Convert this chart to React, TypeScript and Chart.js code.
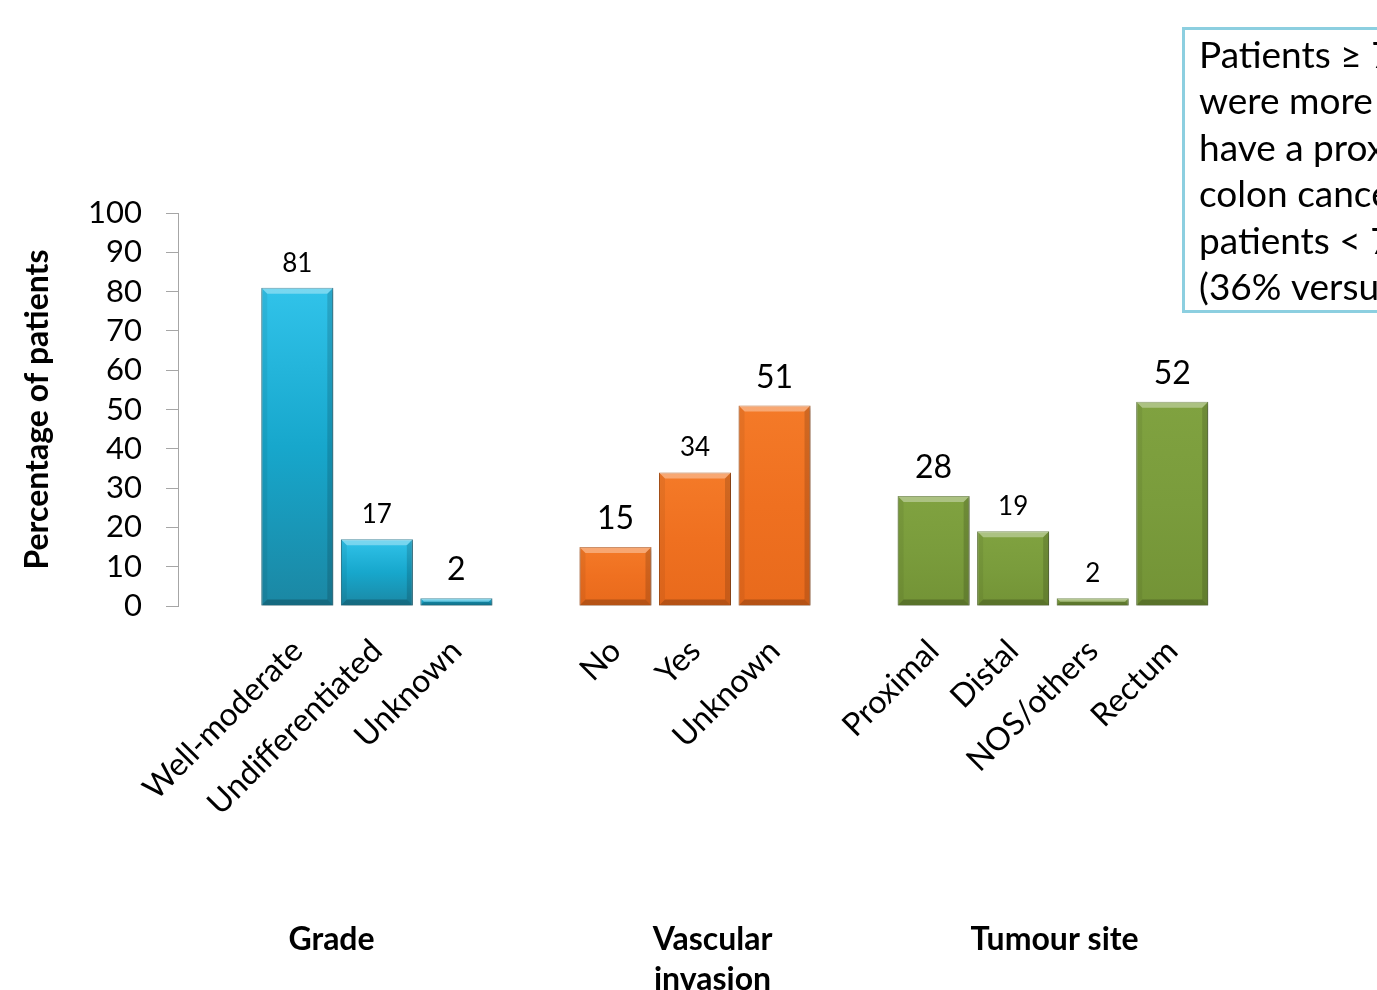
import React, { useEffect, useRef } from "react";
import { Chart, registerables } from "chart.js";

Chart.register(...registerables);

// ---- data ----
const gradeLabels = ["Well-moderate", "Undifferentiated", "Unknown"];
const gradeValues = [81, 17, 2];
const vascularLabels = ["No", "Yes", "Unknown"];
const vascularValues = [15, 34, 51];
const siteLabels = ["Proximal", "Distal", "NOS/others", "Rectum"];
const siteValues = [28, 19, 2, 52];
const yTickMax = 100;
const yTickStep = 10;
const groupTitles = [["Grade"], ["Vascular", "invasion"], ["Tumour site"]];
const noteLines = [
  "Patients \u2265 70 years",
  "were more likely to",
  "have a proximal",
  "colon cancer than",
  "patients < 70 years",
  "(36% versus 24%)",
];

// ---- styling ----
const FONT = "Lato, 'Open Sans', sans-serif";
const groupPalette = [
  { top: "#31c3ea", mid: "#17a7cc", bottom: "#1b87a3", border: "#12708a" },
  { top: "#f47a28", mid: "#ef7020", bottom: "#e86a1c", border: "#b9581a" },
  { top: "#80a240", mid: "#7a9c3c", bottom: "#739336", border: "#58752a" },
];
// larger value labels for some bars, per group
const bigValueLabel = [
  [false, false, true],
  [true, false, true],
  [true, false, false, true],
];
// where each group title sits, in category units
const groupTitleAt = [1.43, 6.22, 10.52];

// ---- assembled series: an empty slot before each group ----
const groups = [
  { labels: gradeLabels, values: gradeValues },
  { labels: vascularLabels, values: vascularValues },
  { labels: siteLabels, values: siteValues },
];
const allLabels: string[] = [];
const allValues: (number | null)[] = [];
const slotGroup: number[] = [];
const slotBig: boolean[] = [];
groups.forEach((g, gi) => {
  allLabels.push("");
  allValues.push(null);
  slotGroup.push(-1);
  slotBig.push(false);
  g.labels.forEach((l, i) => {
    allLabels.push(l);
    allValues.push(g.values[i]);
    slotGroup.push(gi);
    slotBig.push(bigValueLabel[gi][i]);
  });
});

const barFill = (ctx: any) => {
  const gi = slotGroup[ctx.dataIndex];
  if (gi < 0) return "transparent";
  const pal = groupPalette[gi];
  const chart = ctx.chart;
  const ys = chart.scales && chart.scales.y;
  const v = ctx.raw;
  if (!ys || v == null || !isFinite(ys.getPixelForValue(v))) return pal.mid;
  const top = ys.getPixelForValue(v);
  const base = ys.getPixelForValue(0);
  if (!(base > top)) return pal.mid;
  const g = chart.ctx.createLinearGradient(0, top, 0, base);
  g.addColorStop(0, pal.top);
  g.addColorStop(0.5, pal.mid);
  g.addColorStop(1, pal.bottom);
  return g;
};

const barBorder = (ctx: any) => {
  const gi = slotGroup[ctx.dataIndex];
  return gi < 0 ? "transparent" : groupPalette[gi].border;
};

// soft shadow under the bars
const barShadow = {
  id: "barShadow",
  beforeDatasetsDraw(chart: any) {
    const c = chart.ctx;
    c.save();
    c.shadowColor = "rgba(0,0,0,0.28)";
    c.shadowBlur = 4;
    c.shadowOffsetX = 1;
    c.shadowOffsetY = 2;
  },
  afterDatasetsDraw(chart: any) {
    chart.ctx.restore();
  },
};

// bevelled edges on each bar
const barBevel = {
  id: "barBevel",
  afterDatasetsDraw(chart: any) {
    const c = chart.ctx;
    const meta = chart.getDatasetMeta(0);
    meta.data.forEach((el: any, i: number) => {
      if (allValues[i] == null) return;
      const l = el.x - el.width / 2;
      const r = el.x + el.width / 2;
      const t = Math.min(el.y, el.base);
      const b = Math.max(el.y, el.base);
      const h = b - t;
      const bv = Math.min(6, h / 2);
      const quad = (pts: number[][], fill: string) => {
        c.beginPath();
        c.moveTo(pts[0][0], pts[0][1]);
        for (let k = 1; k < pts.length; k++) c.lineTo(pts[k][0], pts[k][1]);
        c.closePath();
        c.fillStyle = fill;
        c.fill();
      };
      c.save();
      quad([[l, t], [r, t], [r - bv, t + bv], [l + bv, t + bv]], "rgba(255,255,255,0.35)");
      quad([[l, t], [l + bv, t + bv], [l + bv, b - bv], [l, b]], "rgba(0,0,0,0.06)");
      quad([[r, t], [r, b], [r - bv, b - bv], [r - bv, t + bv]], "rgba(0,0,0,0.14)");
      quad([[l, b], [l + bv, b - bv], [r - bv, b - bv], [r, b]], "rgba(0,0,0,0.22)");
      c.restore();
    });
  },
};

// value labels above the bars
const valueLabels = {
  id: "valueLabels",
  afterDatasetsDraw(chart: any) {
    const c = chart.ctx;
    const meta = chart.getDatasetMeta(0);
    c.save();
    c.fillStyle = "#000";
    c.textAlign = "center";
    c.textBaseline = "middle";
    meta.data.forEach((el: any, i: number) => {
      const v = allValues[i];
      if (v == null) return;
      const big = slotBig[i];
      c.font = `${big ? 32 : 26}px ${FONT}`;
      c.fillText(String(v), el.x, el.y - (big ? 28 : 24.5));
    });
    c.restore();
  },
};

// group captions under the category labels
const groupCaptions = {
  id: "groupCaptions",
  afterDraw(chart: any) {
    const c = chart.ctx;
    const xs = chart.scales.x;
    c.save();
    c.fillStyle = "#000";
    c.textAlign = "center";
    c.textBaseline = "middle";
    c.font = `bold 32px ${FONT}`;
    groupTitles.forEach((lines, gi) => {
      const x = xs.getPixelForValue(groupTitleAt[gi]);
      lines.forEach((line, li) => c.fillText(line, x, 940 + li * 40));
    });
    c.restore();
  },
};

// boxed note in the upper right
const noteBox = {
  id: "noteBox",
  afterDraw(chart: any) {
    const c = chart.ctx;
    c.save();
    c.strokeStyle = "#8ccfe0";
    c.lineWidth = 3;
    c.strokeRect(1183.5, 28.5, 400, 283);
    c.fillStyle = "#000";
    c.textAlign = "left";
    c.textBaseline = "middle";
    c.font = `37px ${FONT}`;
    noteLines.forEach((line, i) => c.fillText(line, 1199, 56 + i * 46.5));
    c.restore();
  },
};

export default function App() {
  const ref = useRef<HTMLCanvasElement | null>(null);

  useEffect(() => {
    if (!ref.current) return;
    const chart = new Chart(ref.current, {
      type: "bar",
      data: {
        labels: allLabels,
        datasets: [
          {
            data: allValues,
            backgroundColor: barFill,
            borderColor: barBorder,
            borderWidth: 1,
            categoryPercentage: 1,
            barPercentage: 0.905,
          },
        ],
      },
      options: {
        responsive: false,
        animation: false,
        devicePixelRatio: 1,
        layout: { padding: { left: 0, right: 165, top: 213, bottom: 0 } },
        plugins: {
          legend: { display: false },
          tooltip: { enabled: false },
        },
        scales: {
          x: {
            grid: { display: false },
            border: { display: false },
            ticks: {
              autoSkip: false,
              minRotation: 45,
              maxRotation: 45,
              color: "#000",
              padding: 18,
              font: { family: FONT, size: 32 },
            },
            afterFit(scale: any) {
              scale.height = 384;
            },
          },
          y: {
            min: 0,
            max: yTickMax,
            ticks: {
              stepSize: yTickStep,
              autoSkip: false,
              color: "#000",
              padding: 24,
              font: { family: FONT, size: 31 },
            },
            grid: {
              drawOnChartArea: false,
              drawTicks: true,
              tickLength: 12,
              color: "#a6a6a6",
              lineWidth: 1,
            },
            border: { display: true, color: "#a6a6a6", width: 1 },
            title: {
              display: true,
              text: "Percentage of patients",
              color: "#000",
              font: { family: FONT, size: 32, weight: "bold" },
              padding: { top: 18, bottom: 0 },
            },
            afterFit(scale: any) {
              scale.width = 178;
            },
          },
        },
      },
      plugins: [barShadow, barBevel, valueLabels, groupCaptions, noteBox],
    });
    return () => chart.destroy();
  }, []);

  return (
    <div
      style={{
        position: "fixed",
        left: 0,
        top: 0,
        width: 1377,
        height: 990,
        overflow: "hidden",
        background: "#fff",
      }}
    >
      <canvas ref={ref} width={1377} height={990} style={{ display: "block" }} />
    </div>
  );
}
